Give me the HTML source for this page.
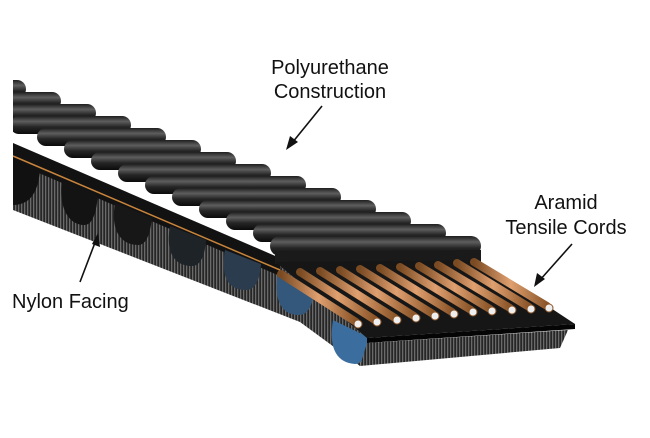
<!DOCTYPE html>
<html><head><style>
html,body{margin:0;padding:0;background:#fff;}
svg{display:block}
text{font-family:"Liberation Sans",Arial,sans-serif;font-size:20px;fill:#111}
</style></head><body>
<svg width="650" height="438" viewBox="0 0 650 438">
<defs>
<linearGradient id="rg" x1="0" y1="0" x2="0" y2="1">
<stop offset="0" stop-color="#1e1e1e"/><stop offset="0.3" stop-color="#5e5e5e"/><stop offset="0.6" stop-color="#262626"/><stop offset="1" stop-color="#0a0a0a"/>
</linearGradient>
<linearGradient id="cord" x1="0" y1="0" x2="1" y2="0">
<stop offset="0" stop-color="#7a4a22"/><stop offset="0.5" stop-color="#e0a070"/><stop offset="1" stop-color="#8a5528"/>
</linearGradient>
<pattern id="mesh" width="3" height="3" patternUnits="userSpaceOnUse">
<rect width="3" height="3" fill="#262626"/><rect width="1.3" height="3" fill="#6a6a6a"/>
</pattern>
<clipPath id="cl"><rect x="13" y="0" width="640" height="438"/></clipPath>
</defs>
<g clip-path="url(#cl)">
<polygon points="13,150 275,262 367,338 360,366 300,322 13,210" fill="url(#mesh)"/>
<polygon points="13,143 280,258 280,276 13,162" fill="#121212"/>
<path d="M13,158 L40,170 C38,195 28,205 13,205 Z" fill="#111"/>
<path d="M62,180 C58,210 70,225 84,225 C92,225 96,215 98,195 Z" fill="#131313"/>
<path d="M115,203 C110,232 122,245 138,245 C146,245 150,235 152,218 Z" fill="#171717"/>
<path d="M170,226 C165,255 176,266 192,266 C200,266 205,256 206,240 Z" fill="#1e2328"/>
<path d="M225,250 C220,280 230,290 246,290 C255,290 260,280 261,264 Z" fill="#2a3c4e"/>
<path d="M278,272 C273,303 283,315 299,315 C308,315 313,305 314,290 Z" fill="#33587c"/>
<path d="M333,320 C328,350 338,363 355,364 C362,364 368,355 370,338 Z" fill="#3b6e9e"/>
<path d="M13,156 L280,270" stroke="#c8843c" stroke-width="1.5"/>
<rect x="-98" y="68" width="89" height="18" rx="9" fill="url(#rg)"/>
<rect x="-71" y="80" width="97" height="18" rx="9" fill="url(#rg)"/>
<rect x="-44" y="92" width="105" height="18" rx="9" fill="url(#rg)"/>
<rect x="-17" y="104" width="113" height="18" rx="9" fill="url(#rg)"/>
<rect x="10" y="116" width="121" height="18" rx="9" fill="url(#rg)"/>
<rect x="37" y="128" width="129" height="18" rx="9" fill="url(#rg)"/>
<rect x="64" y="140" width="137" height="18" rx="9" fill="url(#rg)"/>
<rect x="91" y="152" width="145" height="18" rx="9" fill="url(#rg)"/>
<rect x="118" y="164" width="153" height="18" rx="9" fill="url(#rg)"/>
<rect x="145" y="176" width="161" height="18" rx="9" fill="url(#rg)"/>
<rect x="172" y="188" width="169" height="18" rx="9" fill="url(#rg)"/>
<rect x="199" y="200" width="177" height="18" rx="9" fill="url(#rg)"/>
<rect x="226" y="212" width="185" height="18" rx="9" fill="url(#rg)"/>
<rect x="253" y="224" width="193" height="18" rx="9" fill="url(#rg)"/>
<rect x="270" y="236" width="211" height="20" rx="10" fill="url(#rg)"/>
</g>
<polygon points="275,252 481,250 481,263 275,264" fill="#1a1a1a"/>
<polygon points="275,262 478,260 575,324 367,338" fill="#161616"/>
<polygon points="367,338 575,324 575,329 367,343" fill="#050505"/>
<polygon points="367,343 568,330 560,348 360,366" fill="url(#mesh)"/>
<g stroke="url(#cord)" stroke-width="8" stroke-linecap="round">
<line x1="281" y1="274" x2="356" y2="322"/>
<line x1="300" y1="272" x2="375" y2="320"/>
<line x1="320" y1="271" x2="395" y2="318"/>
<line x1="340" y1="270" x2="414" y2="316"/>
<line x1="360" y1="269" x2="433" y2="314"/>
<line x1="380" y1="268" x2="452" y2="312"/>
<line x1="400" y1="267" x2="471" y2="310"/>
<line x1="419" y1="266" x2="490" y2="309"/>
<line x1="438" y1="265" x2="510" y2="308"/>
<line x1="457" y1="263" x2="529" y2="307"/>
<line x1="474" y1="262" x2="547" y2="306"/>
</g>
<g fill="#eee" stroke="#8a5528" stroke-width="1">
<circle cx="358" cy="324" r="4"/><circle cx="377" cy="322" r="4"/><circle cx="397" cy="320" r="4"/><circle cx="416" cy="318" r="4"/><circle cx="435" cy="316" r="4"/><circle cx="454" cy="314" r="4"/><circle cx="473" cy="312" r="4"/><circle cx="492" cy="311" r="4"/><circle cx="512" cy="310" r="4"/><circle cx="531" cy="309" r="4"/><circle cx="549" cy="308" r="4"/>
</g>
<text x="330" y="74" text-anchor="middle">Polyurethane</text>
<text x="330" y="98" text-anchor="middle">Construction</text>
<text x="566" y="209" text-anchor="middle">Aramid</text>
<text x="566" y="234" text-anchor="middle">Tensile Cords</text>
<text x="12" y="308">Nylon Facing</text>
<g stroke="#111" stroke-width="1.6">
<line x1="322" y1="106" x2="292" y2="143"/>
<line x1="572" y1="244" x2="540" y2="280"/>
<line x1="80" y1="282" x2="96" y2="240"/>
</g>
<g fill="#111">
<polygon points="286,150 290,136 298,142"/>
<polygon points="534,287 537,273 545,279"/>
<polygon points="98,233 100,247 92,244"/>
</g>
</svg>
</body></html>
